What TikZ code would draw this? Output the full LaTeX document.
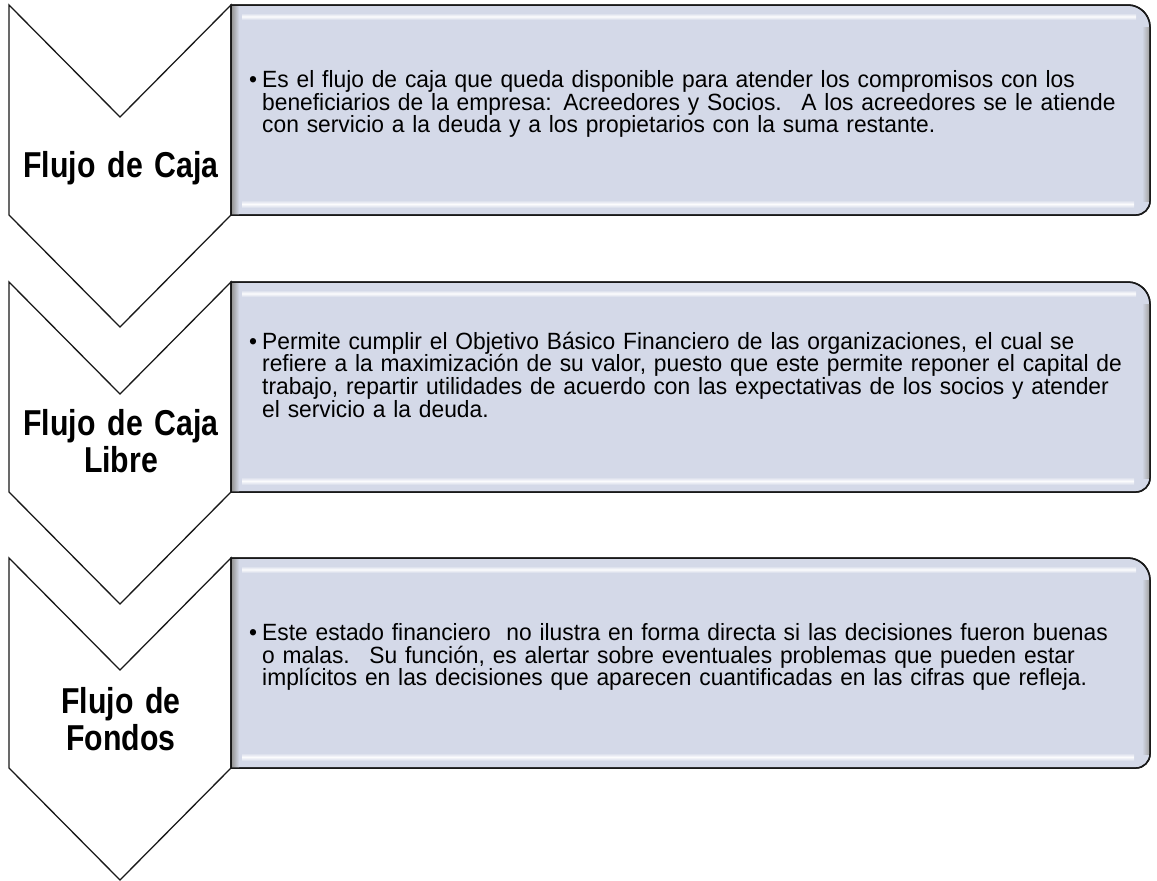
\documentclass[tikz,border=0pt]{standalone}
\usepackage{fontspec}
\setmainfont{Liberation Sans}[FakeStretch=0.97, WordSpace=0.95]
\newfontfamily\titlefont{Liberation Sans}[FakeStretch=0.84, WordSpace=0.7]
\definecolor{boxfill}{RGB}{212,217,232}
\definecolor{edge}{RGB}{25,25,25}
\begin{document}
\begin{tikzpicture}[x=1pt,y=-1pt,
  chev/.style={draw=edge, line width=1.3pt, fill=white, line join=miter},
  panel/.style={draw=edge, line width=1.5pt, fill=boxfill},
  rim/.style={draw=edge, line width=1.5pt},
  title/.style={font=\titlefont\fontsize{36}{37}\selectfont\bfseries, text width=224pt, align=center, inner sep=0, anchor=base},
  body/.style={font=\fontsize{23.5}{22.7}\selectfont, text width=900pt, align=left, inner sep=0, anchor=base west},
  bul/.style={font=\fontsize{23.5}{22.7}\selectfont, inner sep=0, anchor=base}
]
\useasboundingbox (0,0) rectangle (1157,881);
\fill[white] (0,0) rectangle (1157,881);
\foreach \t in {5,282,558} {
  % chevron
  \draw[chev] (9,\t) -- (120,\t+112) -- (231,\t) -- (231,\t+210) -- (120,\t+322) -- (9,\t+210) -- cycle;
  % panel
  \draw[panel] (231,\t) -- (1128,\t) .. controls (1140.1,\t) and (1150,\t+9.9) .. (1150,\t+22)
     -- (1150,\t+196) .. controls (1150,\t+203.7) and (1143.7,\t+210) .. (1136,\t+210)
     -- (231,\t+210) -- cycle;
  \shade[top color=boxfill, bottom color=boxfill, middle color=white!92!boxfill] (242,\t+8) rectangle (1136,\t+15);
  \shade[top color=boxfill, bottom color=boxfill, middle color=white!92!boxfill] (242,\t+195) rectangle (1134,\t+203);
  \shade[left color=black!40, right color=boxfill] (232,\t+1) rectangle (239,\t+209);
  \shade[left color=boxfill, right color=black!35] (1142,\t+22) rectangle (1149,\t+196);
  \draw[rim] (231,\t) -- (1128,\t) .. controls (1140.1,\t) and (1150,\t+9.9) .. (1150,\t+22)
     -- (1150,\t+196) .. controls (1150,\t+203.7) and (1143.7,\t+210) .. (1136,\t+210)
     -- (231,\t+210) -- cycle;
}
% chevron labels
\node[title] (l1) at (121,177) {Flujo de Caja};
\node[title] (l2) at (121,435) {Flujo de Caja\\Libre};
\node[title] (l3) at (121,713) {Flujo de\\Fondos};
% panel texts
\node[bul] (b1) at (253,87.5) {•};
\node[body] (t1) at (262,87.5) {Es el flujo de caja que queda disponible para atender los compromisos con los\\
beneficiarios de la empresa: Acreedores y Socios.~ A los acreedores se le atiende\\
con servicio a la deuda y a los propietarios con la suma restante.};
\node[bul] (b2) at (253,349) {•};
\node[body] (t2) at (262,349) {Permite cumplir el Objetivo Básico Financiero de las organizaciones, el cual se\\
refiere a la maximización de su valor, puesto que este permite reponer el capital de\\
trabajo, repartir utilidades de acuerdo con las expectativas de los socios y atender\\
el servicio a la deuda.};
\node[bul] (b3) at (253,640.5) {•};
\node[body] (t3) at (262,640.5) {Este estado financiero~ no ilustra en forma directa si las decisiones fueron buenas\\
o malas.~ Su función, es alertar sobre eventuales problemas que pueden estar\\
implícitos en las decisiones que aparecen cuantificadas en las cifras que refleja.};
\end{tikzpicture}
\end{document}
